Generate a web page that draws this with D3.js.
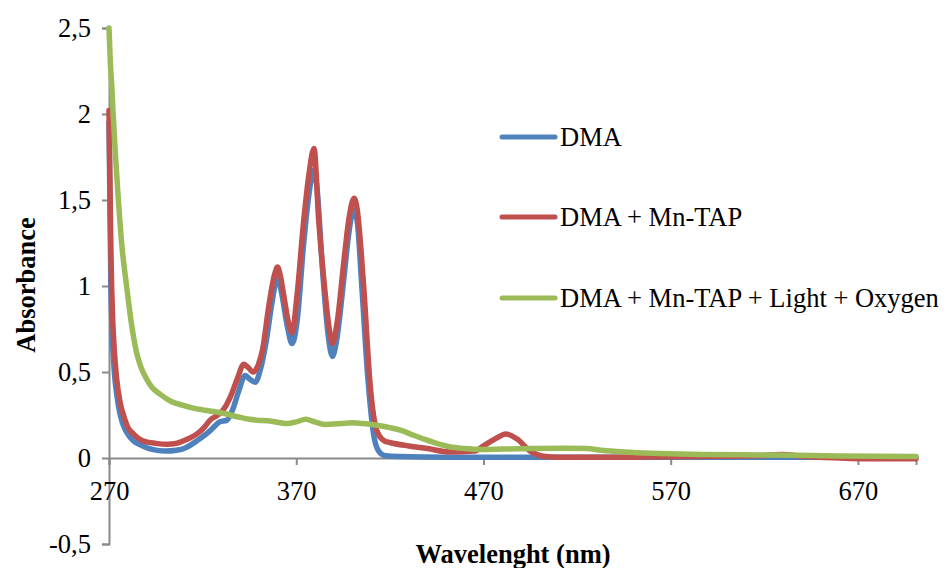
<!DOCTYPE html>
<html>
<head>
<meta charset="utf-8">
<script src="https://cdnjs.cloudflare.com/ajax/libs/d3/7.8.5/d3.min.js"></script>
<style>
  html, body { margin: 0; padding: 0; background: #fff; }
  svg { display: block; }
</style>
</head>
<body>
<svg id="chart" width="948" height="568" font-family="Liberation Serif"></svg>
<script>
// ---- data ----
const seriesNames = ["DMA", "DMA + Mn-TAP", "DMA + Mn-TAP + Light + Oxygen"];
const seriesColors = ["#4F81BD", "#C0504D", "#9BBB59"];

const dmaNm  = [270, 271, 272, 273, 274, 276, 278, 280, 283, 288, 293, 300, 306, 311, 317, 322, 326, 329, 333, 336, 339, 342.8, 345, 348, 351, 354, 357, 360, 362, 365, 367.8, 370.5, 374, 377, 379, 381, 384, 387, 389.3, 391.5, 395.5, 398, 400.5, 402.5, 405, 408, 411.6, 414, 417, 425, 450, 500, 600, 701];
const dmaAbs = [1.95, 1.0, 0.65, 0.48, 0.38, 0.25, 0.18, 0.14, 0.10, 0.07, 0.05, 0.04, 0.045, 0.06, 0.10, 0.14, 0.18, 0.21, 0.22, 0.28, 0.38, 0.48, 0.46, 0.44, 0.52, 0.68, 0.90, 1.05, 0.97, 0.78, 0.665, 0.80, 1.25, 1.55, 1.67, 1.58, 1.10, 0.72, 0.59, 0.68, 1.05, 1.30, 1.44, 1.38, 1.00, 0.50, 0.12, 0.04, 0.015, 0.008, 0.005, 0.005, 0.005, 0.005];

const mnNm  = [270, 271, 272, 273, 274, 276, 278, 280, 283, 288, 295, 301, 306, 312, 317, 321, 324, 328, 331, 335, 338.5, 342, 344, 347, 350, 352, 355.3, 358.5, 360, 361.5, 363.4, 366, 367.8, 370.5, 374, 376.8, 379.5, 382, 384.8, 387.5, 389.3, 392, 395.5, 398, 400.9, 402.5, 406, 409.6, 413, 417, 420, 430, 440, 452, 465, 470, 476, 482, 488, 495, 502, 510, 550, 600, 620, 630, 640, 660, 680, 701];
const mnAbs = [2.02, 1.2, 0.8, 0.6, 0.47, 0.32, 0.24, 0.18, 0.14, 0.10, 0.085, 0.08, 0.085, 0.11, 0.14, 0.18, 0.22, 0.25, 0.28, 0.36, 0.46, 0.545, 0.53, 0.50, 0.55, 0.63, 0.88, 1.07, 1.11, 1.06, 0.94, 0.78, 0.73, 0.955, 1.38, 1.65, 1.80, 1.38, 1.03, 0.76, 0.665, 0.80, 1.15, 1.38, 1.51, 1.45, 1.00, 0.41, 0.16, 0.10, 0.09, 0.07, 0.055, 0.035, 0.04, 0.07, 0.11, 0.14, 0.11, 0.04, 0.01, 0.005, 0.005, 0.01, 0.015, 0.02, 0.01, 0.0, -0.005, -0.005];

const oxNm  = [270, 270.7, 271.5, 272.2, 273.5, 275, 277, 279.4, 282, 284.8, 287, 290, 293, 297.4, 303, 309.6, 315, 320, 326, 331, 338.6, 345, 349, 356, 365, 370, 375, 380, 385, 394, 400, 406, 413, 420.5, 426, 432, 437, 445, 452, 460, 469, 480, 494, 515, 525, 533, 545, 560, 586, 620, 660, 701];
const oxAbs = [2.5, 2.3, 2.16, 2.0, 1.75, 1.5, 1.22, 1.0, 0.78, 0.61, 0.53, 0.46, 0.41, 0.37, 0.33, 0.306, 0.29, 0.28, 0.27, 0.26, 0.24, 0.225, 0.22, 0.215, 0.20, 0.21, 0.225, 0.21, 0.195, 0.20, 0.205, 0.20, 0.19, 0.175, 0.16, 0.135, 0.115, 0.085, 0.065, 0.055, 0.05, 0.052, 0.055, 0.057, 0.055, 0.045, 0.035, 0.027, 0.021, 0.018, 0.012, 0.008];

const xTickValues = [270, 370, 470, 570, 670];
const yTickValues = [-0.5, 0, 0.5, 1, 1.5, 2, 2.5];
const xTitle = "Wavelenght (nm)";
const yTitle = "Absorbance";

// ---- chart ----
const FONT = "'Liberation Serif', serif";
const svg = d3.select("#chart");
const x = d3.scaleLinear().domain([270, 701]).range([109, 916]);
const y = d3.scaleLinear().domain([-0.5, 2.5]).range([544, 28]);
const axisColor = "#8a8a8a";
const fontSize = 26.5;

// Y axis
const yAxis = svg.append("g")
  .attr("transform", `translate(${x(270)},0)`)
  .call(d3.axisLeft(y).tickValues(yTickValues).tickSizeOuter(0).tickSize(7).tickPadding(11)
    .tickFormat(d => String(d).replace(".", ",")));
// X axis at y = 0
const xAxis = svg.append("g")
  .attr("transform", `translate(0,${y(0)})`)
  .call(d3.axisBottom(x).tickValues(xTickValues).tickSizeOuter(0).tickSize(7).tickPadding(16)
    .tickFormat(d3.format("d")));

[yAxis, xAxis].forEach(g => {
  g.attr("font-family", "Liberation Serif").attr("font-size", fontSize);
  g.selectAll("path.domain").attr("stroke", axisColor).attr("stroke-width", 2);
  g.selectAll(".tick line").attr("stroke", axisColor).attr("stroke-width", 2);
  g.selectAll(".tick text")
    .style("font-family", FONT)
    .style("font-size", fontSize + "px").attr("fill", "#000");
});

// lines
const line = d3.line().x(d => x(d[0])).y(d => y(d[1])).curve(d3.curveMonotoneX);
const seriesData = [
  d3.zip(dmaNm, dmaAbs),
  d3.zip(mnNm, mnAbs),
  d3.zip(oxNm, oxAbs)
];
seriesData.forEach((data, i) => {
  svg.append("path")
    .datum(data)
    .attr("fill", "none")
    .attr("stroke", seriesColors[i])
    .attr("stroke-width", 5.5)
    .attr("stroke-linejoin", "round")
    .attr("stroke-linecap", "round")
    .attr("d", line);
});

// legend
const legendY = [137, 217, 298];
const legend = svg.append("g");
seriesNames.forEach((name, i) => {
  legend.append("line")
    .attr("x1", 502).attr("x2", 555)
    .attr("y1", legendY[i]).attr("y2", legendY[i])
    .attr("stroke", seriesColors[i]).attr("stroke-width", 5)
    .attr("stroke-linecap", "round");
  legend.append("text")
    .attr("x", 560).attr("y", legendY[i])
    .attr("dy", "0.33em")
    .style("font-family", FONT)
    .style("font-size", fontSize + "px")
    .attr("fill", "#000")
    .text(name);
});

// axis titles
svg.append("text")
  .attr("x", 513).attr("y", 563)
  .attr("text-anchor", "middle")
  .style("font-family", FONT)
  .style("font-size", fontSize + "px")
  .style("font-weight", "bold")
  .text(xTitle);

svg.append("text")
  .attr("transform", "translate(35,285) rotate(-90)")
  .attr("text-anchor", "middle")
  .style("font-family", FONT)
  .style("font-size", fontSize + "px")
  .style("font-weight", "bold")
  .text(yTitle);
</script>
</body>
</html>
